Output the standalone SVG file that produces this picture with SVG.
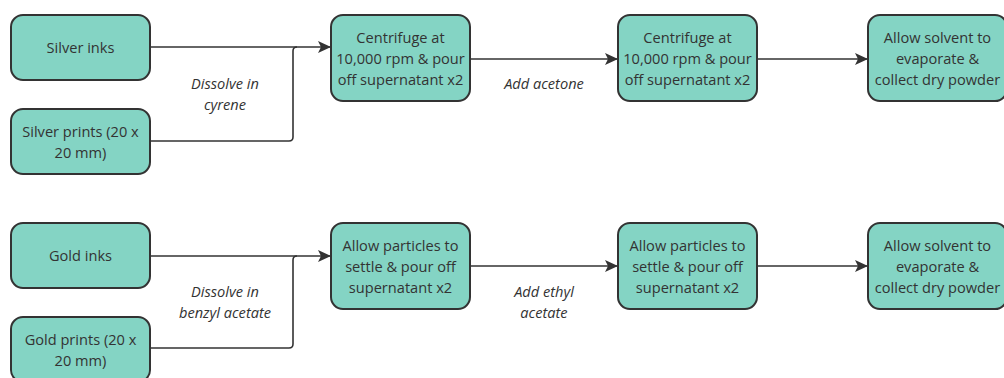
<svg xmlns="http://www.w3.org/2000/svg" width="1004" height="378" viewBox="0 0 1004 378">
<style>
.box{fill:#84d4c4;stroke:#333;stroke-width:2}
.t{font-family:"Open Sans","Noto Sans",sans-serif;font-size:14.6px;fill:#333;text-anchor:middle}
.l{font-family:"Open Sans","Noto Sans",sans-serif;font-size:14.6px;font-style:italic;fill:#333;text-anchor:middle}
.c{fill:none;stroke:#333;stroke-width:1.6}
</style>
<defs>
<marker id="ah" markerWidth="13" markerHeight="14" refX="12" refY="7" orient="auto" markerUnits="userSpaceOnUse">
<path d="M0,1 L13,7 L0,13 L3,7 Z" fill="#333"/>
</marker>
</defs>
<rect width="1004" height="378" fill="#fff"/>
<g id="connectors">
<path class="c" d="M150,47 H330" marker-end="url(#ah)"/>
<path class="c" d="M150,141 H289 Q293,141 293,137 V51 Q293,47 297,47"/>
<path class="c" d="M471,59 H617" marker-end="url(#ah)"/>
<path class="c" d="M757,59 H867" marker-end="url(#ah)"/>
<path class="c" d="M150,256 H330" marker-end="url(#ah)"/>
<path class="c" d="M150,348 H289 Q293,348 293,344 V260 Q293,256 297,256"/>
<path class="c" d="M471,266 H617" marker-end="url(#ah)"/>
<path class="c" d="M757,266 H867" marker-end="url(#ah)"/>
<text class="l" x="225" y="89">Dissolve in</text>
<text class="l" x="225" y="110">cyrene</text>
<text class="l" x="544" y="89">Add acetone</text>
<text class="l" x="225" y="297">Dissolve in</text>
<text class="l" x="225" y="318">benzyl acetate</text>
<text class="l" x="544" y="297">Add ethyl</text>
<text class="l" x="544" y="318">acetate</text>
</g>
<g id="silver-inks"><rect class="box" x="11" y="15" width="139" height="65" rx="12"/><text class="t" x="80.5" y="52.5">Silver inks</text></g>
<g id="silver-prints"><rect class="box" x="11" y="109" width="139" height="65" rx="12"/><text class="t" x="80.5" y="137">Silver prints (20 x</text><text class="t" x="80.5" y="158">20 mm)</text></g>
<g id="centrifuge-1"><rect class="box" x="331" y="15" width="139" height="86" rx="12"/><text class="t" x="400.5" y="43">Centrifuge at</text><text class="t" x="400.5" y="64">10,000 rpm &amp; pour</text><text class="t" x="400.5" y="85">off supernatant x2</text></g>
<g id="centrifuge-2"><rect class="box" x="618" y="15" width="139" height="86" rx="12"/><text class="t" x="687.5" y="43">Centrifuge at</text><text class="t" x="687.5" y="64">10,000 rpm &amp; pour</text><text class="t" x="687.5" y="85">off supernatant x2</text></g>
<g id="evaporate-silver"><rect class="box" x="868" y="15" width="139" height="86" rx="12"/><text class="t" x="937.5" y="43">Allow solvent to</text><text class="t" x="937.5" y="64">evaporate &amp;</text><text class="t" x="937.5" y="85">collect dry powder</text></g>
<g id="gold-inks"><rect class="box" x="11" y="223" width="139" height="65" rx="12"/><text class="t" x="80.5" y="260.5">Gold inks</text></g>
<g id="gold-prints"><rect class="box" x="11" y="317" width="139" height="65" rx="12"/><text class="t" x="80.5" y="345">Gold prints (20 x</text><text class="t" x="80.5" y="366">20 mm)</text></g>
<g id="settle-1"><rect class="box" x="331" y="223" width="139" height="86" rx="12"/><text class="t" x="400.5" y="251">Allow particles to</text><text class="t" x="400.5" y="272">settle &amp; pour off</text><text class="t" x="400.5" y="293">supernatant x2</text></g>
<g id="settle-2"><rect class="box" x="618" y="223" width="139" height="86" rx="12"/><text class="t" x="687.5" y="251">Allow particles to</text><text class="t" x="687.5" y="272">settle &amp; pour off</text><text class="t" x="687.5" y="293">supernatant x2</text></g>
<g id="evaporate-gold"><rect class="box" x="868" y="223" width="139" height="86" rx="12"/><text class="t" x="937.5" y="251">Allow solvent to</text><text class="t" x="937.5" y="272">evaporate &amp;</text><text class="t" x="937.5" y="293">collect dry powder</text></g>
</svg>
